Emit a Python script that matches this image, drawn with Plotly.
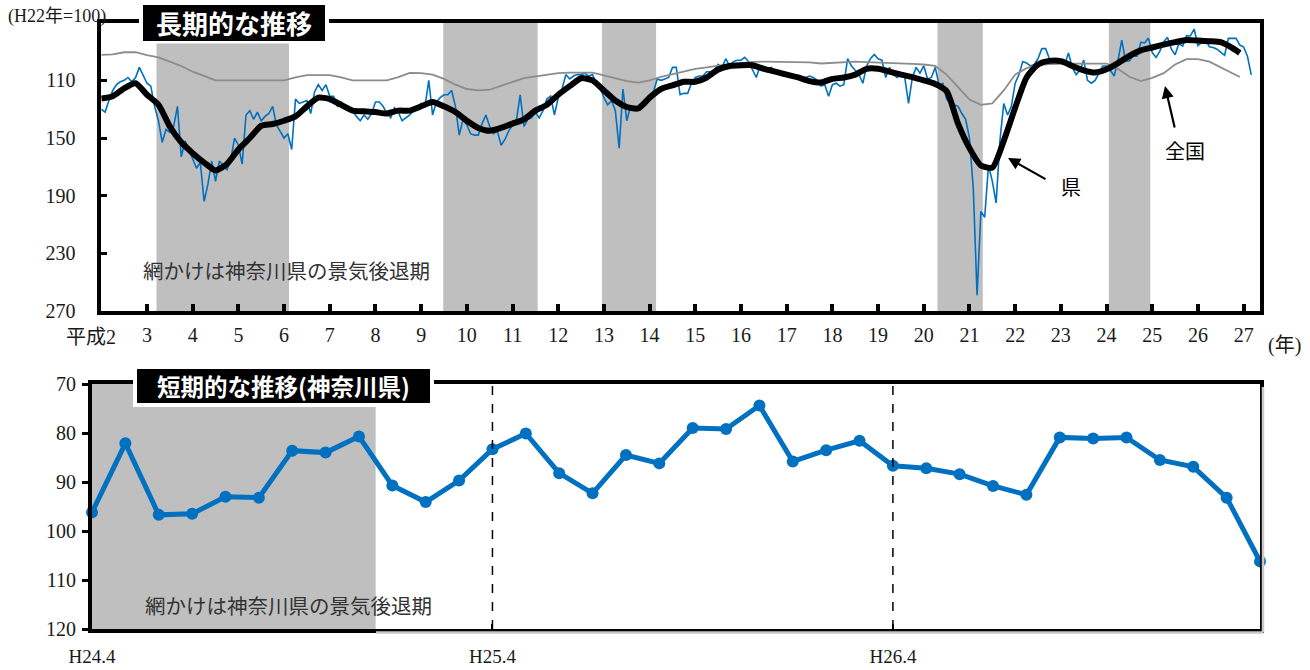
import plotly.graph_objects as go

# ---------------- data ----------------
# Long-term: monthly index, month 0 = H2.1 (Heisei 2, January), reversed axis (H22=100)
blue_early = [
    130, 132, 124, 117, 113, 111, 110, 108, 111, 108,
    101, 106, 112, 114, 128, 138, 153, 144, 146, 142,
    128, 163, 152, 158, 164, 171, 167, 194, 182, 166,
    180, 166, 169, 172, 165, 150, 155, 168, 134, 131,
    137, 132, 138, 135, 133, 128, 141, 146, 150, 147,
    158, 123, 126, 125, 124, 133, 118, 113, 117, 113,
    121, 121, 128, 125, 129, 131, 131, 135, 138, 134,
    137, 133, 125, 125, 128, 133, 136, 129, 132, 138,
    136, 134, 131, 130, 126, 128, 110, 134, 125, 122,
    120, 120, 117, 128, 148, 137, 141, 147, 148, 148,
    140, 134, 142, 147, 145, 155, 151, 145, 141, 138,
    120, 142, 137, 136, 132, 136, 131, 123, 121, 134,
    122, 116, 106, 109, 107, 106, 106, 105, 107, 106,
    112, 115, 122, 127, 124, 131, 157, 116, 138, 128,
    130, 130, 129, 127, 123, 118, 109, 110, 109, 108,
    101, 101, 120, 119, 119, 112, 108, 107, 107, 104,
    104, 103, 99, 101, 95, 100, 97, 96, 96, 94,
    97, 103, 108, 100, 101, 102, 101, 104, 106, 107,
    107, 106, 108, 108, 110, 108, 107, 108, 110, 114,
    113, 121, 113, 112, 114, 113, 95, 100, 103, 106,
    112, 100, 95, 92, 95, 96, 108, 101, 106, 108,
    106, 108, 126, 108, 101, 105, 100, 109, 108, 101,
    113, 112, 123, 126, 127, 128, 133, 137, 150, 185,
    259, 201, 205, 169, 180, 195, 152, 126, 134, 128,
    112, 106, 97, 98, 100, 99, 95, 88, 88, 95,
    98, 96, 97, 99, 91, 101, 106, 103, 96, 110,
    112, 110, 105, 100, 100, 103, 107,
]

# Short-term (Kanagawa): H24.4 .. H27.3 monthly
short_labels = ["H24.4", "H25.4", "H26.4"]
short_values = [
    96.2, 82.1, 96.7, 96.5, 93.0, 93.2, 83.6, 84.0, 80.7, 90.7, 94.1, 89.7,
    83.3, 80.1, 88.2, 92.3, 84.5, 86.2, 79.0, 79.2, 74.4, 85.8, 83.5, 81.6,
    86.7, 87.2, 88.4, 90.8, 92.6, 80.9, 81.1, 80.9, 85.5, 86.9, 93.2, 106.2,
]

blue_long = blue_early + short_values

# Smoothed prefecture series (県) and national series (全国), sampled quarterly
smooth_months = list(range(0, 300, 3)) + [299]
pref_trend = [
    122.6, 121, 115.5, 112, 120, 126.8, 142, 153, 160.5, 167,
    172.5, 168, 158, 150, 141.5, 140.3, 138, 135, 128, 122,
    123, 127, 131, 131.5, 132, 133, 131, 131, 128, 125,
    128, 132, 138, 143, 145, 143, 140, 137, 131, 127,
    120, 114, 108.5, 110, 117, 124, 128.5, 129.5, 122, 116,
    113.5, 111, 111, 108, 102.5, 100, 99.5, 99.5, 102, 104,
    106, 108, 110.5, 111.5, 109, 108, 106, 102, 102, 104,
    106, 107.7, 110, 112.5, 117.5, 140, 157, 169, 170.5, 152,
    129, 108, 99, 96.5, 96.7, 100, 103, 104.5, 102.3, 98,
    93, 89.2, 87.2, 85.2, 83.5, 82, 82.4, 82.8, 83.5, 87.5,
    91,
]
national = [
    92.3, 92, 90.5, 90.5, 92.5, 94, 97, 100, 104, 107,
    110, 110, 110, 110, 110, 110, 110, 108, 106.3, 106.3,
    106.3, 108, 110, 110, 110, 110, 107.7, 104.8, 105, 106,
    109, 113, 116, 117, 116.5, 113.5, 111, 108.5, 107.5, 106,
    105, 104.6, 104.6, 104.6, 106.5, 108.5, 110.5, 111.6, 110, 107.5,
    105.5, 103.5, 102, 101, 99.8, 98.8, 98, 97.2, 97, 97,
    97, 97, 97.5, 98.3, 98, 97.5, 97, 97.3, 97.5, 97.7,
    98, 98.6, 99, 100, 106, 115, 123.3, 127, 126, 117,
    106, 101.5, 99.5, 98.8, 98.4, 98.4, 98.4, 98.4, 98.4, 102,
    107.5, 110.5, 108.3, 105, 99, 95.3, 95.3, 97, 101, 105.5,
    107.7,
]

# Kanagawa recession periods (month index from H2.1)
recession_start = [14.5, 89.8, 131.5, 219.6, 264.6]
recession_end = [49.3, 114.6, 145.7, 231.5, 275.5]
short_recession_end = 8.5  # index in short-term series

year_labels = [str(y) for y in range(3, 28)]
year_ticks = [(y - 2) * 12 for y in range(3, 28)]
long_yticks = [110, 150, 190, 230, 270]
short_yticks = [70, 80, 90, 100, 110, 120]
short_tick_idx = [0, 12, 24]

# ---------------- styling ----------------
W, H = 1310, 670
def px(x):
    return x / W
def py(y):
    return 1 - y / H

BLUE = "#0070C0"
SHADE = "#BFBFBF"
SERIF = "Liberation Serif, 'Noto Sans CJK JP', serif"
GOTHIC = "'Noto Sans CJK JP', sans-serif"
TXT = "#1a1a1a"

fig = go.Figure()

fig.add_trace(go.Scatter(x=list(range(len(blue_long))), y=blue_long, mode="lines",
                         line=dict(color=BLUE, width=1.6), xaxis="x", yaxis="y",
                         hoverinfo="skip"))
fig.add_trace(go.Scatter(x=smooth_months, y=national, mode="lines",
                         line=dict(color="#8c8c8c", width=1.8), xaxis="x", yaxis="y",
                         hoverinfo="skip"))
fig.add_trace(go.Scatter(x=smooth_months, y=pref_trend, mode="lines",
                         line=dict(color="black", width=6, shape="spline", smoothing=0.6),
                         xaxis="x", yaxis="y", hoverinfo="skip"))

fig.add_trace(go.Scatter(x=list(range(len(short_values))), y=short_values, mode="lines+markers",
                         line=dict(color=BLUE, width=5), marker=dict(color=BLUE, size=12),
                         cliponaxis=False, xaxis="x2", yaxis="y2", hoverinfo="skip"))

shapes = []
for s, e in zip(recession_start, recession_end):
    shapes.append(dict(type="rect", xref="x", yref="y domain", x0=s, x1=e, y0=0, y1=1,
                       fillcolor=SHADE, line=dict(width=0), layer="below"))
shapes.append(dict(type="rect", xref="x2", yref="y2 domain", x0=0, x1=short_recession_end,
                   y0=0, y1=1, fillcolor=SHADE, line=dict(width=0), layer="below"))
for i in short_tick_idx[1:]:
    shapes.append(dict(type="line", xref="x2", yref="y2 domain", x0=i, x1=i, y0=0, y1=1,
                       line=dict(color="black", width=1.5, dash="dash"), layer="above"))

# shadows of the lower frame
shapes.append(dict(type="line", xref="paper", yref="paper", x0=px(376), x1=px(1263),
                   y0=py(632.5), y1=py(632.5), line=dict(color="#c8c8c8", width=2.5)))
shapes.append(dict(type="line", xref="paper", yref="paper", x0=px(1263), x1=px(1263),
                   y0=py(387), y1=py(632.5), line=dict(color="#c8c8c8", width=2.5)))

# title boxes (white surround + black box)
def box(x0, y0, x1, y1, color):
    return dict(type="rect", xref="paper", yref="paper", x0=px(x0), x1=px(x1),
                y0=py(y1), y1=py(y0), fillcolor=color, line=dict(width=0), layer="above")
shapes.append(box(139, 1, 329, 43.5, "white"))
shapes.append(box(143, 5, 325, 41, "black"))
shapes.append(box(133, 365, 434, 407, "white"))
shapes.append(box(137, 369, 430, 403, "black"))

def ann(text, x, y, size=20, color=TXT, family=SERIF, xanchor="center", bold=False):
    return dict(text=f"<b>{text}</b>" if bold else text, x=px(x), y=py(y),
                xref="paper", yref="paper", showarrow=False, xanchor=xanchor,
                yanchor="middle", font=dict(size=size, color=color, family=family))

annotations = [
    ann("長期的な推移", 234, 23, size=26, color="white", family=GOTHIC, bold=True),
    ann("短期的な推移(神奈川県)", 283.5, 386, size=23.5, color="white", family=GOTHIC, bold=True),
    ann("(H22年=100)", 57, 17, size=18),
    ann("網かけは神奈川県の景気後退期", 286, 272, size=20.5, color="#333333"),
    ann("網かけは神奈川県の景気後退期", 288, 607, size=20.5, color="#333333"),
    ann("平成2", 118, 337, size=20, xanchor="right"),
    ann("(年)", 1284, 345, size=20),
    ann("県", 1071, 187, size=20, color="black", family=GOTHIC),
    ann("全国", 1185, 150, size=20, color="black", family=GOTHIC),
]
annotations.append(dict(x=px(1008), y=py(158), xref="paper", yref="paper", text="",
                        showarrow=True, ax=39, ay=22, arrowhead=2, arrowsize=1.1,
                        arrowwidth=2.2, arrowcolor="black"))
annotations.append(dict(x=px(1165), y=py(86), xref="paper", yref="paper", text="",
                        showarrow=True, ax=10, ay=43, arrowhead=2, arrowsize=1.1,
                        arrowwidth=2.2, arrowcolor="black"))

axis_common = dict(showline=True, linecolor="black", linewidth=3.8, mirror=True,
                   showgrid=False, zeroline=False, automargin=False)
tick20 = dict(family=SERIF, size=20, color=TXT)

fig.update_layout(
    width=W, height=H, autosize=False,
    margin=dict(l=0, r=0, t=0, b=0, pad=0, autoexpand=False),
    paper_bgcolor="white", plot_bgcolor="white",
    showlegend=False,
    xaxis=dict(domain=[px(101.3), px(1260)], range=[0, 304.3], tickvals=year_ticks,
               ticktext=year_labels, ticks="inside", ticklen=7, tickwidth=3.5,
               tickcolor="black", ticklabelstandoff=3, anchor="y", tickfont=tick20,
               **axis_common),
    yaxis=dict(domain=[py(311), py(22.7)], range=[270, 70], tickvals=long_yticks,
               ticks="inside", ticklen=6, tickwidth=3, tickcolor="black",
               ticklabelstandoff=18, anchor="x", tickfont=tick20, **axis_common),
    xaxis2=dict(domain=[px(92), px(1260)], range=[0, 35],
                tickvals=short_tick_idx, ticktext=short_labels, ticks="inside",
                ticklen=5, tickwidth=2, tickcolor="black", ticklabelstandoff=7,
                anchor="y2", tickfont=dict(family=SERIF, size=19, color=TXT),
                **axis_common),
    yaxis2=dict(domain=[py(629), py(384)], range=[120, 70], tickvals=short_yticks,
                ticks="outside", ticklen=6, tickwidth=3, tickcolor="black",
                ticklabelstandoff=2, anchor="x2", tickfont=tick20, **axis_common),
    shapes=shapes,
    annotations=annotations,
)

fig.write_html("out.html", config={"displayModeBar": False},
               post_script="document.body.style.margin='0px';document.body.style.overflow='hidden';")
